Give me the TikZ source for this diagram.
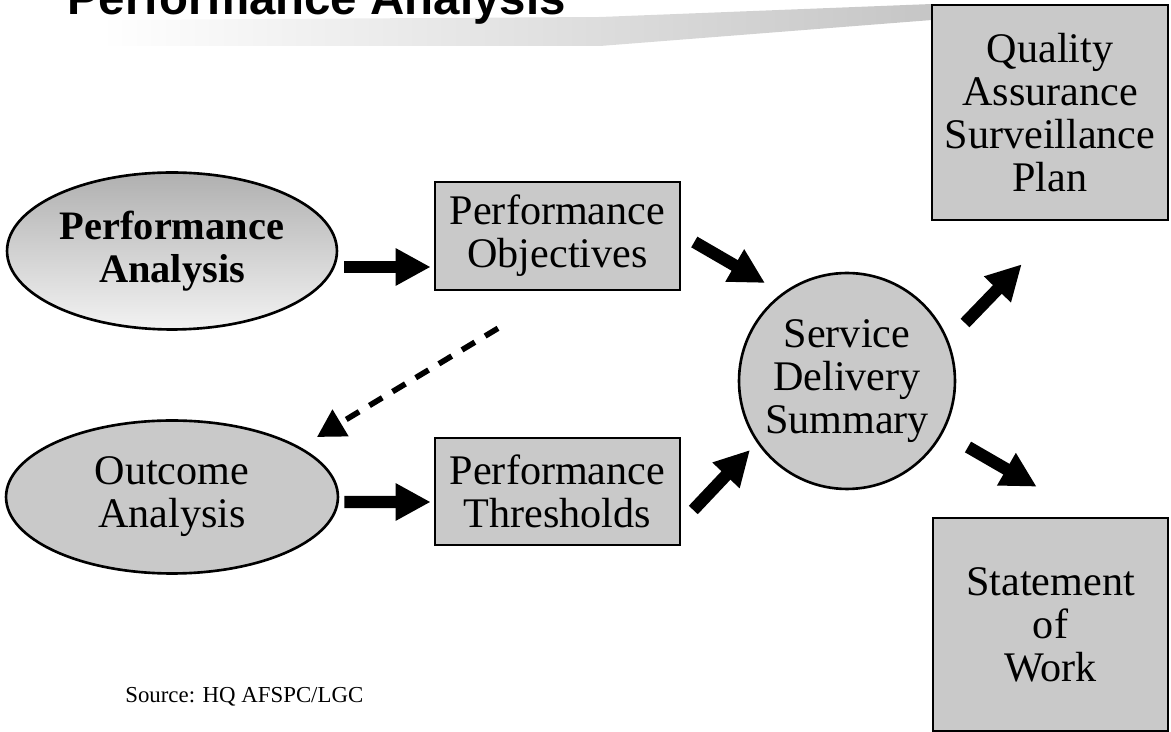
\documentclass[tikz,border=0pt]{standalone}
\usepackage{fontspec}
\setmainfont{Liberation Serif}
\newfontfamily\titlefont{Liberation Sans}
\usetikzlibrary{arrows.meta,calc,shapes.geometric}

\begin{document}
\begin{tikzpicture}[x=0.02cm,y=-0.02cm,
    grayfill/.style={draw,line width=1.5pt,fill=gray!42,align=center,inner sep=0pt,
      font=\fontsize{24}{24.5}\selectfont},
    boxnode/.style={grayfill,rectangle},
    ovalnode/.style={grayfill,ellipse},
    fat/.style={line width=7pt,-{Triangle[length=0.7cm,width=0.7cm]}},
    dashline/.style={line width=3.2pt,dash pattern=on 0.3cm off 0.24cm,
      -{Triangle[length=0.55cm,width=0.6cm]}}]
  \useasboundingbox (0,0) rectangle (1171,732);

  % title strip
  \shade[left color=white,right color=gray!45] (100,20) -- (600,17) -- (932,4) -- (932,20) -- (600,46) -- (100,46) -- cycle;
  \node[anchor=base west,inner sep=0pt,font=\titlefont\bfseries\fontsize{27}{27}\selectfont] (title) at (67,15) {Performance Analysis};

  % left column
  \node[ovalnode,minimum width=6.6cm,minimum height=3.14cm,top color=gray!62,bottom color=gray!10,
    font=\bfseries\fontsize{23}{24.5}\selectfont] (PA) at (172,251) {Performance\\Analysis};
  \node[ovalnode,minimum width=6.64cm,minimum height=3.06cm] (OA) at (172,497) {Outcome\\Analysis};

  % middle column
  \node[boxnode,minimum width=4.9cm,minimum height=2.16cm] (PO) at (557.5,236) {Performance\\Objectives};
  \node[boxnode,minimum width=4.9cm,minimum height=2.14cm] (PT) at (557.5,491.5) {Performance\\Thresholds};
  \node[grayfill,circle,minimum size=4.32cm] (SDS) at (847,381) {Service\\Delivery\\Summary};

  % right column
  \node[boxnode,minimum width=4.72cm,minimum height=4.3cm] (QASP) at (1050,112.5) {Quality\\Assurance\\Surveillance\\Plan};
  \node[boxnode,minimum width=4.7cm,minimum height=4.26cm] (SOW) at (1050.5,624.5) {Statement\\of\\Work};

  \node[anchor=base west,inner sep=0pt,font=\fontsize{13}{14}\selectfont] (src) at (125,703) {Source: HQ AFSPC/LGC};

  % arrows
  \draw[fat] ($(PA.east)+(6,16)$) -- ($(PO.west)+(-3,31)$);
  \draw[fat] ($(OA.east)+(5,5)$) -- ($(PT.west)+(-3,10.5)$);
  \draw[fat] ($(PO.east)+(13,6)$) -- ($(SDS.center)+(-82,-98)$);
  \draw[fat] ($(PT.east)+(12,18.5)$) -- ($(SDS.center)+(-97,69)$);
  \draw[fat] ($(SDS.center)+(118,-58)$) -- ($(QASP.south west)+(91,43)$);
  \draw[fat] ($(SDS.center)+(121,66)$) -- ($(SOW.north west)+(105,-30)$);
  \draw[dashline] ($(PO.south)+(-59.5,37)$) -- ($(OA.center)+(145,-60)$);
\end{tikzpicture}
\end{document}
